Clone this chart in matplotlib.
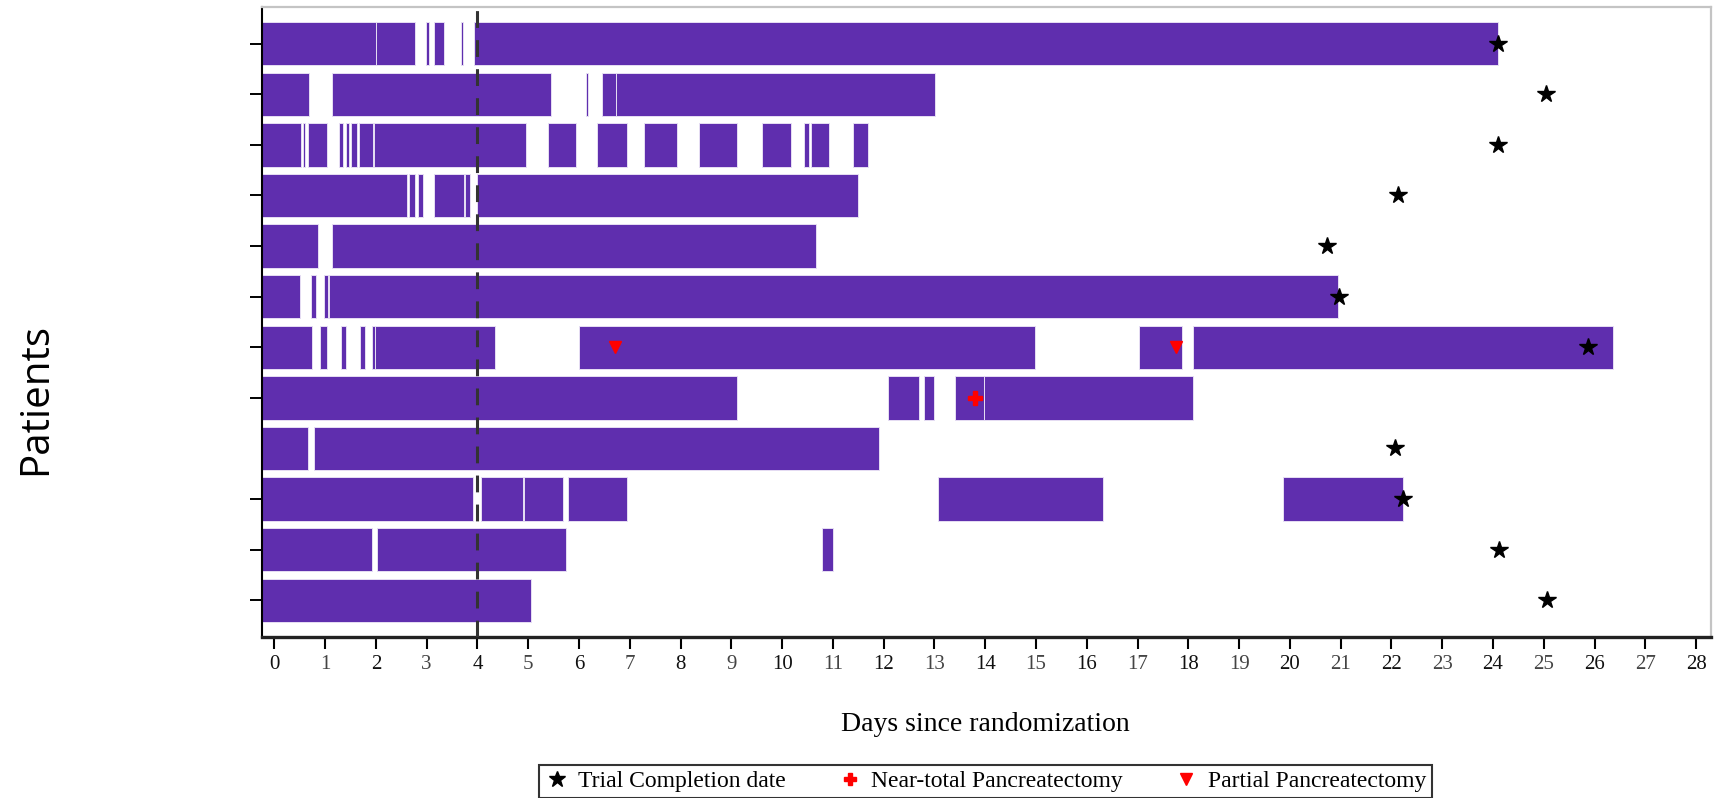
import matplotlib
matplotlib.use("Agg")
import matplotlib.pyplot as plt
from matplotlib.lines import Line2D

# treatment periods per patient (start day, end day), top row first
patient_segments = [
    [(-0.24, 2.01), (2.01, 2.77), (2.98, 3.04), (3.15, 3.35), (3.67, 3.71), (3.94, 24.1)],
    [(-0.24, 0.69), (1.14, 5.45), (6.13, 6.18), (6.45, 6.72), (6.72, 13.02)],
    [(-0.24, 0.53), (0.56, 0.60), (0.67, 1.04), (1.27, 1.35), (1.41, 1.48), (1.52, 1.62),
     (1.67, 1.94), (1.96, 4.96), (5.40, 5.95), (6.35, 6.95), (7.29, 7.94), (8.36, 9.12),
     (9.60, 10.18), (10.44, 10.53), (10.57, 10.93), (11.39, 11.70)],
    [(-0.24, 2.61), (2.66, 2.78), (2.84, 2.93), (3.14, 3.73), (3.76, 3.86), (3.99, 11.5)],
    [(-0.24, 0.87), (1.14, 10.66)],
    [(-0.24, 0.51), (0.73, 0.82), (0.98, 1.05), (1.07, 20.95)],
    [(-0.24, 0.75), (0.91, 1.04), (1.31, 1.41), (1.68, 1.78), (1.93, 1.99), (1.99, 4.35),
     (6.0, 14.98), (17.03, 17.88), (18.09, 26.36)],
    [(-0.24, 9.11), (12.08, 12.69), (12.80, 13.0), (13.40, 13.97), (13.97, 18.1)],
    [(-0.24, 0.67), (0.79, 11.9)],
    [(-0.24, 3.92), (4.08, 4.90), (4.92, 5.68), (5.79, 6.94), (13.07, 16.31), (19.86, 22.23)],
    [(-0.24, 1.93), (2.03, 5.74), (10.78, 11.01)],
    [(-0.24, 5.05)],
]

# trial completion day per patient (None = no marker)
completion_day = [24.1, 25.05, 24.1, 22.12, 20.73, 20.96, 25.87, None, 22.06, 22.22, 24.11, 25.06]

near_total_rows = [7]
near_total_days = [13.8]
partial_rows = [6, 6]
partial_days = [6.7, 17.75]

day_ticks = list(range(29))
randomization_cutoff = 4

PURPLE = "#5f2eae"
SERIF = "Liberation Serif"

fig = plt.figure(figsize=(17.14, 7.98), dpi=100)
ax = fig.add_axes([0.1529, 0.2021, 0.8453, 0.7888])

bar_h = 0.86
for i, segs in enumerate(patient_segments):
    ax.broken_barh([(s, e - s) for s, e in segs], (i - bar_h / 2, bar_h),
                   facecolors=PURPLE, edgecolors="#e6def3", linewidth=0.7, zorder=2)

ax.axvline(randomization_cutoff, color="#333333", lw=2.2, dashes=(5.5, 4), zorder=3)

star_rows = [i for i, d in enumerate(completion_day) if d is not None]
star_days = [d for d in completion_day if d is not None]
ax.plot(star_days, star_rows, ls="none", marker="*", color="black", ms=13, zorder=4)
ax.plot(near_total_days, near_total_rows, ls="none", marker="P", color="red", ms=10, zorder=4)
ax.plot(partial_days, partial_rows, ls="none", marker="v", color="red", ms=9, zorder=4)

ax.set_xlim(-0.24, 28.29)
ax.set_ylim(len(patient_segments) - 1 + 0.72, -0.72)

ax.set_xticks(day_ticks)
ax.set_xticklabels([str(d) for d in day_ticks], family=SERIF, fontsize=15)
ax.tick_params(axis="x", length=8.5, width=1.5, pad=5, direction="out")
for k, t in enumerate(ax.xaxis.get_major_ticks()):
    c = "black" if k % 2 == 0 else "#777777"
    t.tick1line.set_color(c)
    t.label1.set_color("#111111" if k % 2 == 0 else "#444444")

# row 9 has no tick in the original
ytick_rows = [0, 1, 2, 3, 4, 5, 6, 7, 9, 10, 11]
ytick_colors = ["black", "black", "#888888", "#888888", "black", "black",
                "#888888", "#888888", "black", "#888888", "#888888"]
ax.set_yticks(ytick_rows)
ax.set_yticklabels([])
ax.tick_params(axis="y", length=9, width=1.4, direction="out")
for t, c in zip(ax.yaxis.get_major_ticks(), ytick_colors):
    t.tick1line.set_color(c)

for side in ["top", "right"]:
    ax.spines[side].set_color("#c4c4c4")
    ax.spines[side].set_linewidth(1.6)
ax.spines["left"].set_color("black")
ax.spines["left"].set_linewidth(1.5)
ax.spines["bottom"].set_color("#222222")
ax.spines["bottom"].set_linewidth(2.4)

fig.text(0.5747, 0.0927, "Days since randomization", ha="center", va="center",
         family=SERIF, fontsize=20)
fig.text(0.021, 0.5, "Patients", rotation=90, ha="center", va="center",
         family="Open Sans", fontsize=29)

handles = [
    Line2D([], [], ls="none", marker="*", color="black", ms=12),
    Line2D([], [], ls="none", marker="P", color="red", ms=9),
    Line2D([], [], ls="none", marker="v", color="red", ms=9),
]
labels = ["Trial Completion date", "Near-total Pancreatectomy", "Partial Pancreatectomy"]
leg = fig.legend(handles, labels, loc="upper center", bbox_to_anchor=(0.575, 0.0414),
                 ncol=3, frameon=True, fancybox=False, borderaxespad=0, borderpad=0.25,
                 handlelength=1.0, handletextpad=0.4, columnspacing=2.2,
                 prop={"family": SERIF, "size": 17})
leg.get_frame().set_edgecolor("black")
leg.get_frame().set_linewidth(1.5)

fig.savefig("out.png", dpi=100)
